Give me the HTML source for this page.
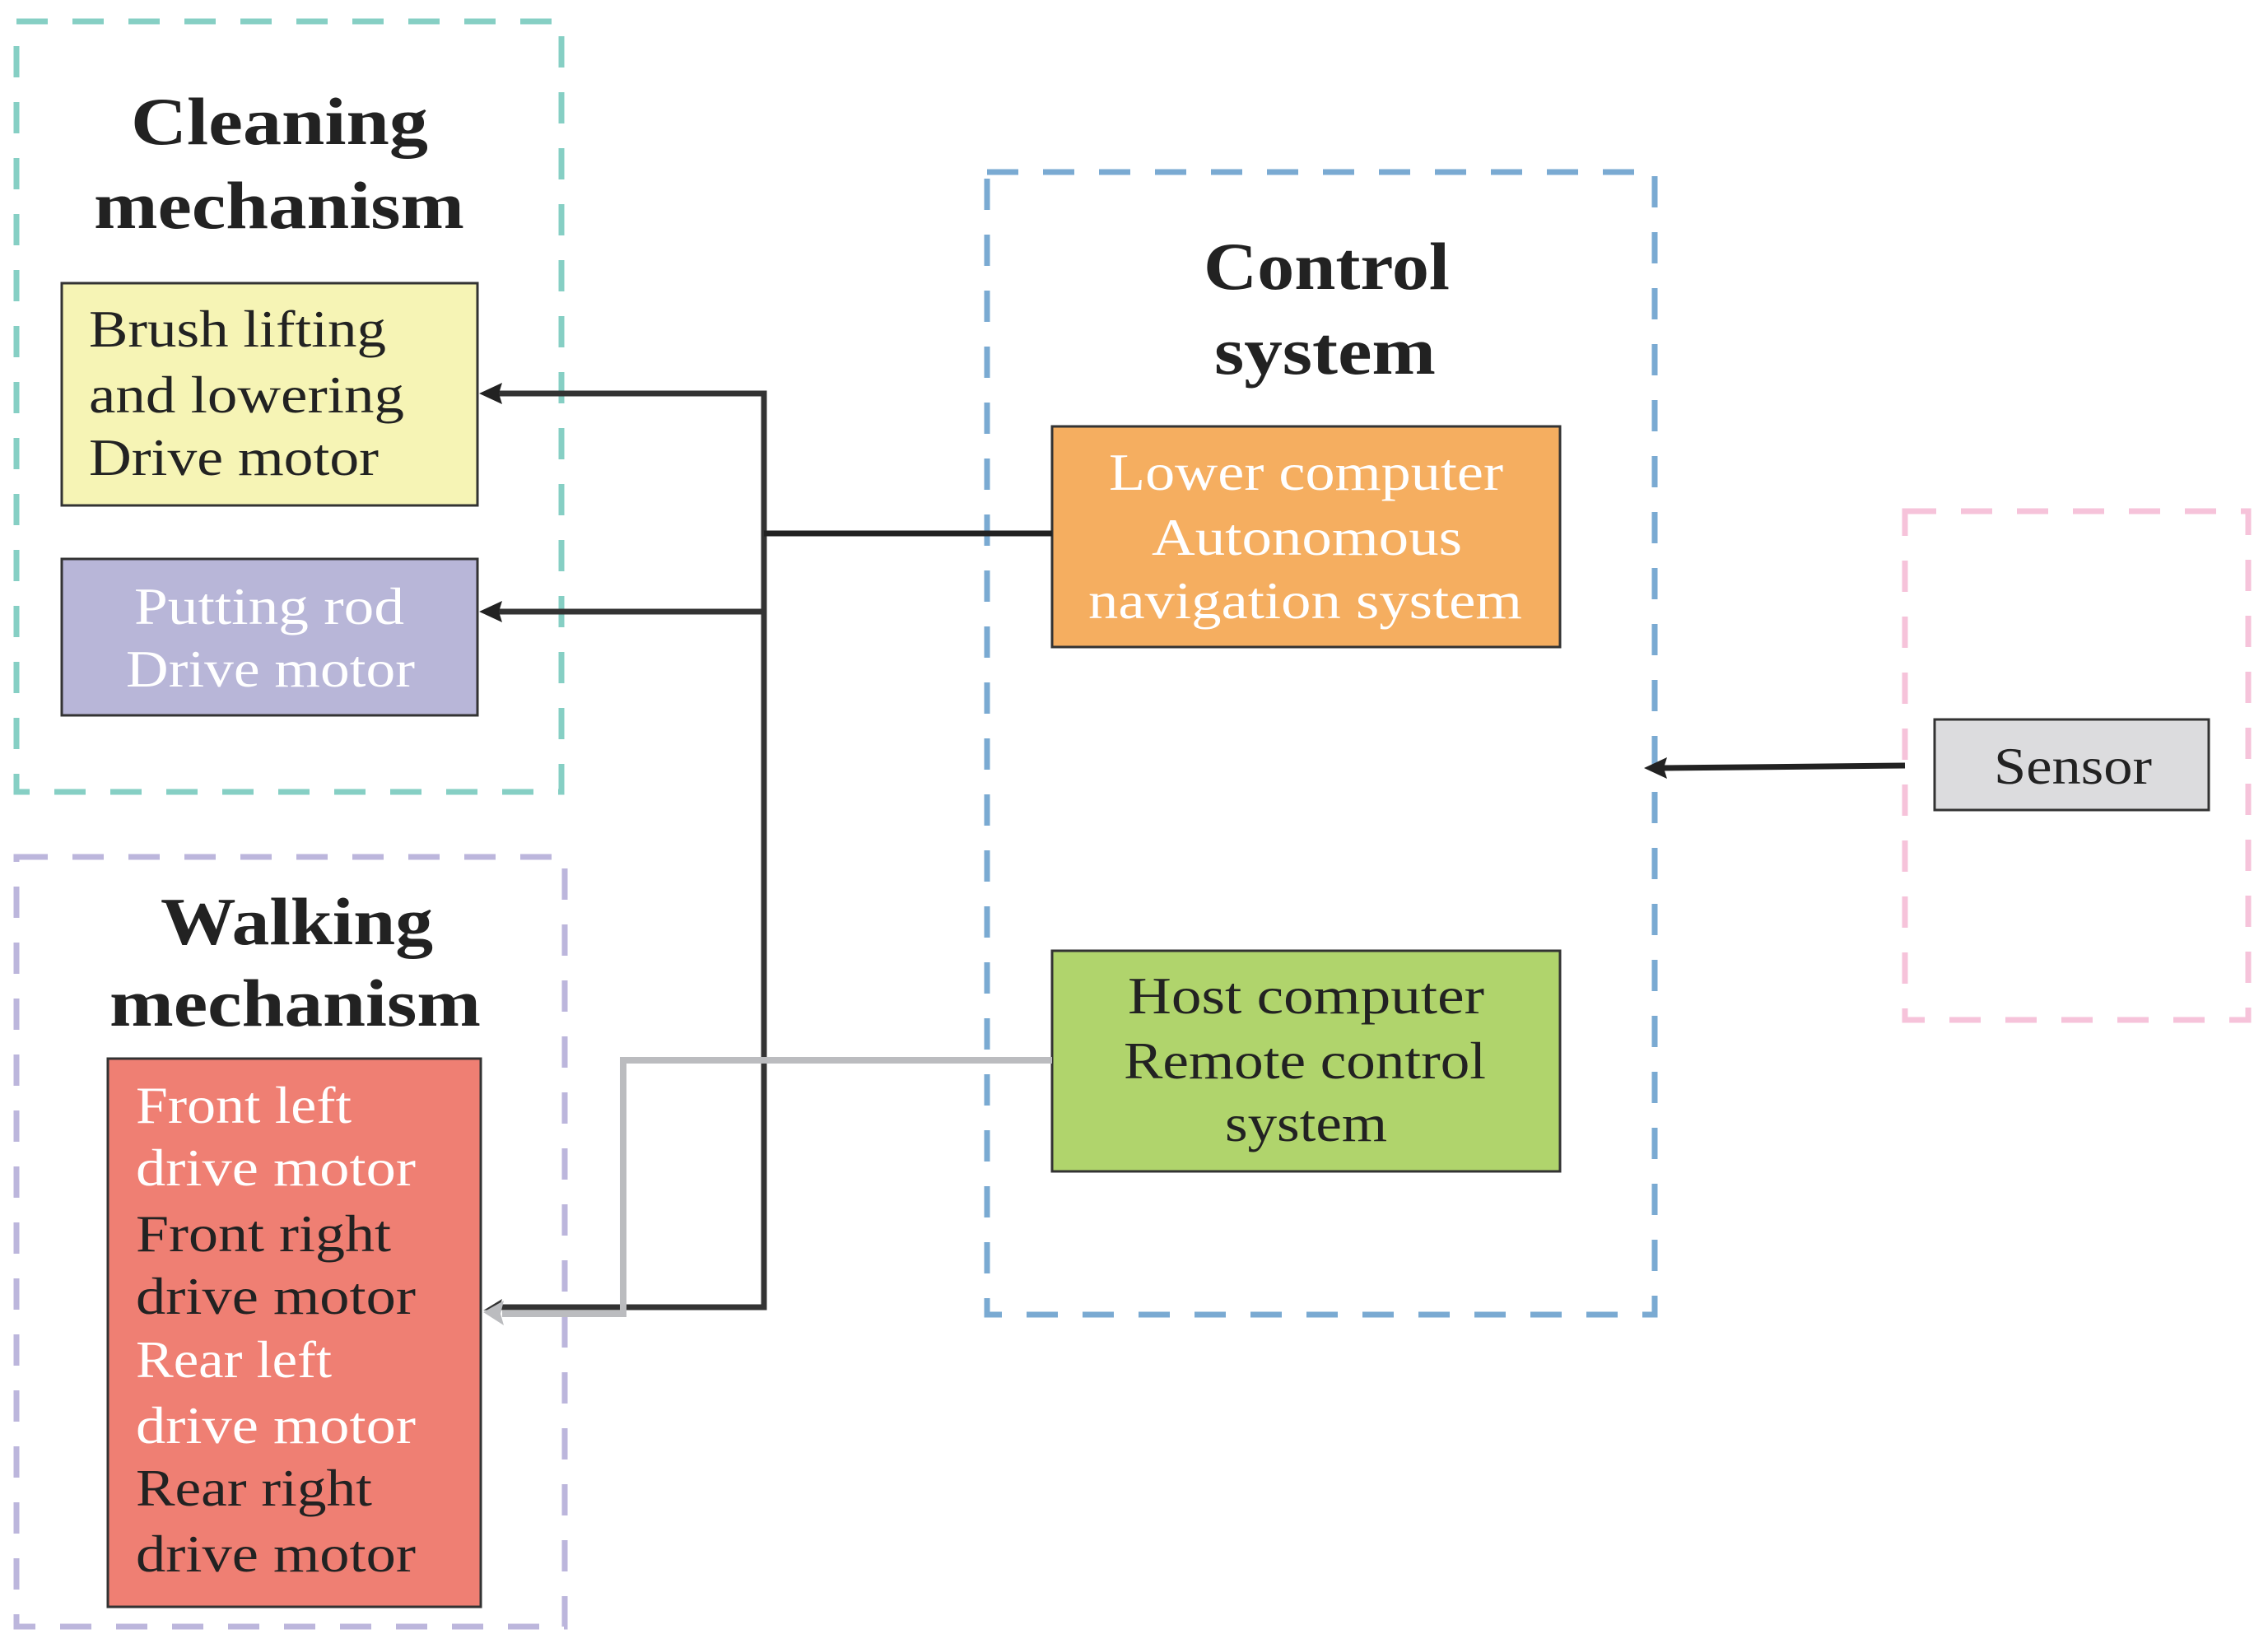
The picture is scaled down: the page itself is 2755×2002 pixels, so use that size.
<!DOCTYPE html>
<html><head><meta charset="utf-8"><style>html,body{margin:0;padding:0;background:#fff}svg{display:block}</style></head>
<body>
<svg width="2755" height="2002" viewBox="0 0 2755 2002" xmlns="http://www.w3.org/2000/svg" font-family="'Liberation Serif', serif">
<rect width="2755" height="2002" fill="#fff"/>
<rect x="20" y="26" width="662" height="936" fill="none" stroke="#86cfc4" stroke-width="7" stroke-dasharray="38 30"/>
<rect x="20" y="1041" width="666" height="935" fill="none" stroke="#bcb6dc" stroke-width="7" stroke-dasharray="38 30"/>
<rect x="1199" y="209" width="811" height="1388" fill="none" stroke="#7aaad2" stroke-width="7" stroke-dasharray="38 30"/>
<rect x="2314" y="621" width="417" height="618" fill="none" stroke="#f6c3da" stroke-width="7" stroke-dasharray="38 30"/>

<g font-weight="bold" font-size="82" fill="#222">
<text x="159" y="175" textLength="361" lengthAdjust="spacingAndGlyphs">Cleaning</text>
<text x="114" y="277" textLength="450" lengthAdjust="spacingAndGlyphs">mechanism</text>
<text x="195" y="1147" textLength="331" lengthAdjust="spacingAndGlyphs">Walking</text>
<text x="133" y="1246" textLength="451" lengthAdjust="spacingAndGlyphs">mechanism</text>
<text x="1462" y="351" textLength="299" lengthAdjust="spacingAndGlyphs">Control</text>
<text x="1475" y="454" textLength="269" lengthAdjust="spacingAndGlyphs">system</text>
</g>

<g stroke="#333" stroke-width="3">
<rect x="75" y="344" width="505" height="270" fill="#f6f4b5"/>
<rect x="75" y="679" width="505" height="190" fill="#b8b6d8"/>
<rect x="131" y="1286" width="453" height="666" fill="#ef7f73"/>
<rect x="1278" y="518" width="617" height="268" fill="#f5ae60"/>
<rect x="1278" y="1155" width="617" height="268" fill="#b0d46c"/>
<rect x="2350" y="874" width="333" height="110" fill="#dcdcde"/>
</g>

<g font-size="63">
<g fill="#222">
<text x="108" y="421" textLength="361" lengthAdjust="spacingAndGlyphs">Brush lifting</text>
<text x="108" y="501" textLength="383" lengthAdjust="spacingAndGlyphs">and lowering</text>
<text x="108" y="577" textLength="352" lengthAdjust="spacingAndGlyphs">Drive motor</text>
</g>
<g fill="#fff">
<text x="163" y="758" textLength="328" lengthAdjust="spacingAndGlyphs">Putting rod</text>
<text x="153" y="834" textLength="351" lengthAdjust="spacingAndGlyphs">Drive motor</text>
<text x="165" y="1364" textLength="262" lengthAdjust="spacingAndGlyphs">Front left</text>
<text x="165" y="1440" textLength="340" lengthAdjust="spacingAndGlyphs">drive motor</text>
<text x="165" y="1673" textLength="238" lengthAdjust="spacingAndGlyphs">Rear left</text>
<text x="165" y="1753" textLength="340" lengthAdjust="spacingAndGlyphs">drive motor</text>
<text x="1347" y="595" textLength="479" lengthAdjust="spacingAndGlyphs">Lower computer</text>
<text x="1399" y="674" textLength="377" lengthAdjust="spacingAndGlyphs">Autonomous</text>
<text x="1322" y="751" textLength="527" lengthAdjust="spacingAndGlyphs">navigation system</text>
</g>
<g fill="#222">
<text x="165" y="1520" textLength="310" lengthAdjust="spacingAndGlyphs">Front right</text>
<text x="165" y="1596" textLength="340" lengthAdjust="spacingAndGlyphs">drive motor</text>
<text x="165" y="1829" textLength="287" lengthAdjust="spacingAndGlyphs">Rear right</text>
<text x="165" y="1909" textLength="340" lengthAdjust="spacingAndGlyphs">drive motor</text>
<text x="1370" y="1231" textLength="433" lengthAdjust="spacingAndGlyphs">Host computer</text>
<text x="1365" y="1310" textLength="440" lengthAdjust="spacingAndGlyphs">Remote control</text>
<text x="1488" y="1386" textLength="197" lengthAdjust="spacingAndGlyphs">system</text>
<text x="2422" y="952" textLength="192" lengthAdjust="spacingAndGlyphs">Sensor</text>
</g>
</g>

<g fill="none" stroke-width="7">
<polyline points="605,478 928,478 928,1588 605,1588" stroke="#333"/>
<line x1="605" y1="743" x2="928" y2="743" stroke="#333"/>
<line x1="928" y1="648" x2="1278" y2="648" stroke="#222"/>
<polyline points="1278,1288 757,1288 757,1596 610,1596" stroke="#bbbcbf" stroke-width="8"/>
<line x1="2314" y1="930" x2="2020" y2="933" stroke="#222"/>
</g>
<g>
<polygon points="582,478 610,465 606,478 610,491" fill="#222"/>
<polygon points="582,743 610,730 606,743 610,756" fill="#222"/>
<polygon points="587,1592 610,1578 606,1590" fill="#333"/>
<polygon points="587,1594 612,1580 608,1596 612,1610" fill="#bbbcbf"/>
<polygon points="1997,933 2025,920 2021,933 2025,946" fill="#222"/>
</g>
</svg>
</body></html>
